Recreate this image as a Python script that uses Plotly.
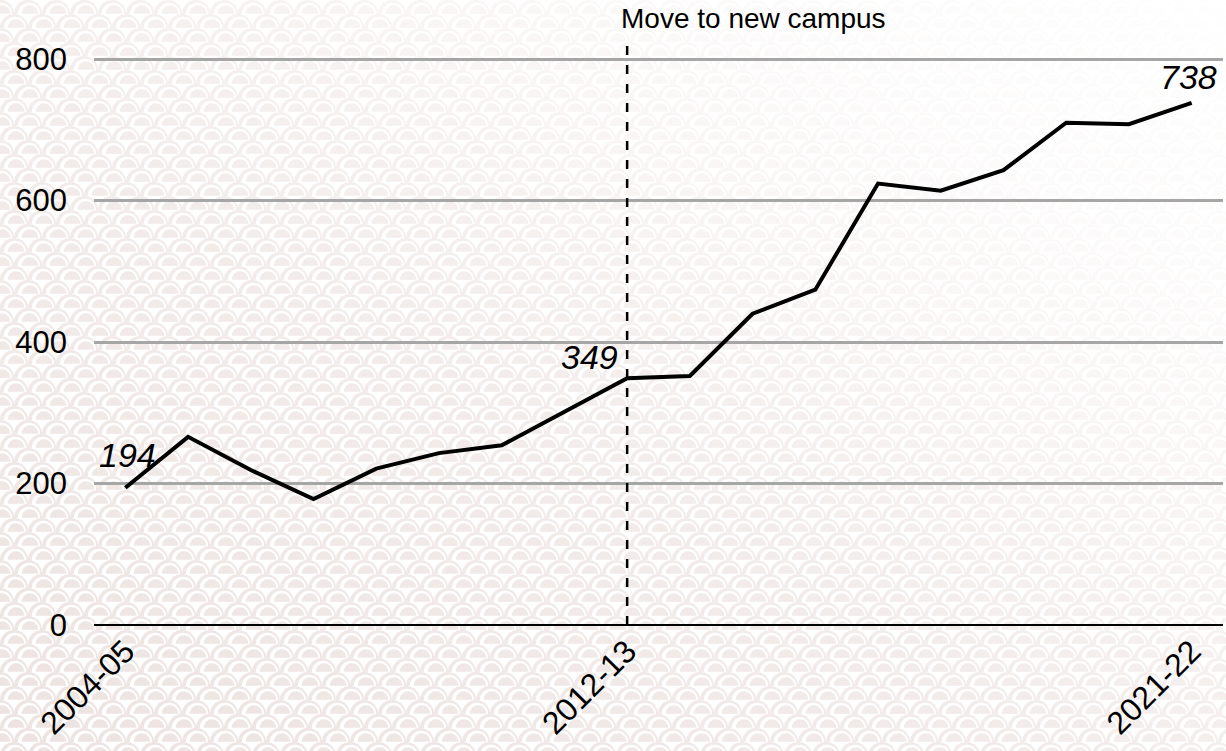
import base64
import plotly.graph_objects as go

# ---- data ----
years = ["2004-05", "2005-06", "2006-07", "2007-08", "2008-09", "2009-10",
         "2010-11", "2011-12", "2012-13", "2013-14", "2014-15", "2015-16",
         "2016-17", "2017-18", "2018-19", "2019-20", "2020-21", "2021-22"]
values = [194, 266, 219, 178, 221, 243, 254, 302, 349, 352, 440, 474,
          624, 614, 643, 710, 708, 738]
x_ticks = ["2004-05", "2012-13", "2021-22"]
y_ticks = [0, 200, 400, 600, 800]
event_year = "2012-13"
event_label = "Move to new campus"
labelled_years = ["2004-05", "2012-13", "2021-22"]

W, H = 1226, 751
FONT = "Arial, Liberation Sans, sans-serif"

# ---- background scale pattern (SVG) ----
R = 14
PINK = "#ede4e1"


def half_disk(cx, cy, r, fill):
    return (f'<path d="M{cx - r:.2f},{cy:.2f} A{r:.2f},{r:.2f} 0 0 1 {cx + r:.2f},{cy:.2f} Z" '
            f'fill="{fill}"/>')


def scale(cx, cy):
    return (half_disk(cx, cy, R, PINK)
            + half_disk(cx + 0.07 * R, cy, 0.8 * R, "#ffffff")
            + half_disk(cx + 0.14 * R, cy - 0.02 * R, 0.6 * R, PINK))


tile = ""
for cx in (0, 2 * R):
    tile += scale(cx, R)
tile += scale(R, 2 * R)

svg = f'''<svg xmlns="http://www.w3.org/2000/svg" width="{W}" height="{H}" viewBox="0 0 {W} {H}">
<defs>
<pattern id="p" width="{2 * R}" height="{2 * R}" patternUnits="userSpaceOnUse" x="0" y="0">
<rect width="{2 * R}" height="{2 * R}" fill="#ffffff"/>
{tile}
</pattern>
<linearGradient id="g" x1="0" y1="1" x2="1" y2="0">
<stop offset="0" stop-color="#ffffff" stop-opacity="0"/>
<stop offset="0.45" stop-color="#ffffff" stop-opacity="0.3"/>
<stop offset="0.8" stop-color="#ffffff" stop-opacity="0.85"/>
<stop offset="1" stop-color="#ffffff" stop-opacity="0.97"/>
</linearGradient>
</defs>
<rect width="{W}" height="{H}" fill="url(#p)"/>
<rect width="{W}" height="{H}" fill="url(#g)"/>
</svg>'''
bg_uri = "data:image/svg+xml;base64," + base64.b64encode(svg.encode()).decode()

# ---- figure ----
fig = go.Figure()
fig.add_trace(go.Scatter(
    x=years, y=values, mode="lines",
    line=dict(color="black", width=4),
    hoverinfo="x+y", showlegend=False,
))

# event vertical dashed line
fig.add_shape(type="line", xref="x", yref="y domain",
              x0=event_year, x1=event_year, y0=0, y1=1,
              line=dict(color="black", width=2.5, dash="9px,10px"))

fig.add_annotation(xref="paper", yref="paper", x=753 / W, y=1 - 19 / H,
                   text=event_label, showarrow=False,
                   xanchor="center", yanchor="middle",
                   font=dict(family=FONT, size=28, color="black"))

# value labels
shifts = {"2004-05": (2, 33), "2012-13": (-38, 21), "2021-22": (-3, 26)}
for yr in labelled_years:
    v = values[years.index(yr)]
    dx, dy = shifts[yr]
    fig.add_annotation(x=yr, y=v, text=str(v), showarrow=False,
                       xanchor="center", yanchor="middle",
                       xshift=dx, yshift=dy,
                       font=dict(family=FONT, size=34, color="black", style="italic"))

fig.add_layout_image(dict(source=bg_uri, xref="paper", yref="paper",
                          x=0, y=1, sizex=1, sizey=1, xanchor="left", yanchor="top",
                          sizing="stretch", layer="below"))

fig.update_layout(
    width=W, height=H,
    margin=dict(l=0, r=0, t=0, b=0, pad=0),
    paper_bgcolor="white",
    plot_bgcolor="rgba(0,0,0,0)",
    font=dict(family=FONT, color="black"),
    xaxis=dict(
        domain=[94 / W, 1223 / W],
        type="category",
        categoryorder="array", categoryarray=years,
        range=[-0.5, len(years) - 0.5],
        tickmode="array", tickvals=x_ticks, ticktext=x_ticks,
        tickangle=-45,
        tickfont=dict(family=FONT, size=32, color="black"),
        showgrid=False, showline=False, zeroline=False,
        ticks="", automargin=False,
    ),
    yaxis=dict(
        domain=[(H - 625) / H, (H - 40) / H],
        range=[0, 827],
        tickmode="array", tickvals=y_ticks,
        tickfont=dict(family=FONT, size=31, color="black"),
        showgrid=True, gridcolor="#a6a6a6", gridwidth=2.5,
        zeroline=True, zerolinecolor="black", zerolinewidth=2,
        showline=False, ticks="", ticklabelstandoff=26,
        automargin=False,
    ),
)

fig.write_html(
    "out.html",
    config={"displayModeBar": False},
    post_script="document.body.style.margin='0';document.body.style.overflow='hidden';",
)
